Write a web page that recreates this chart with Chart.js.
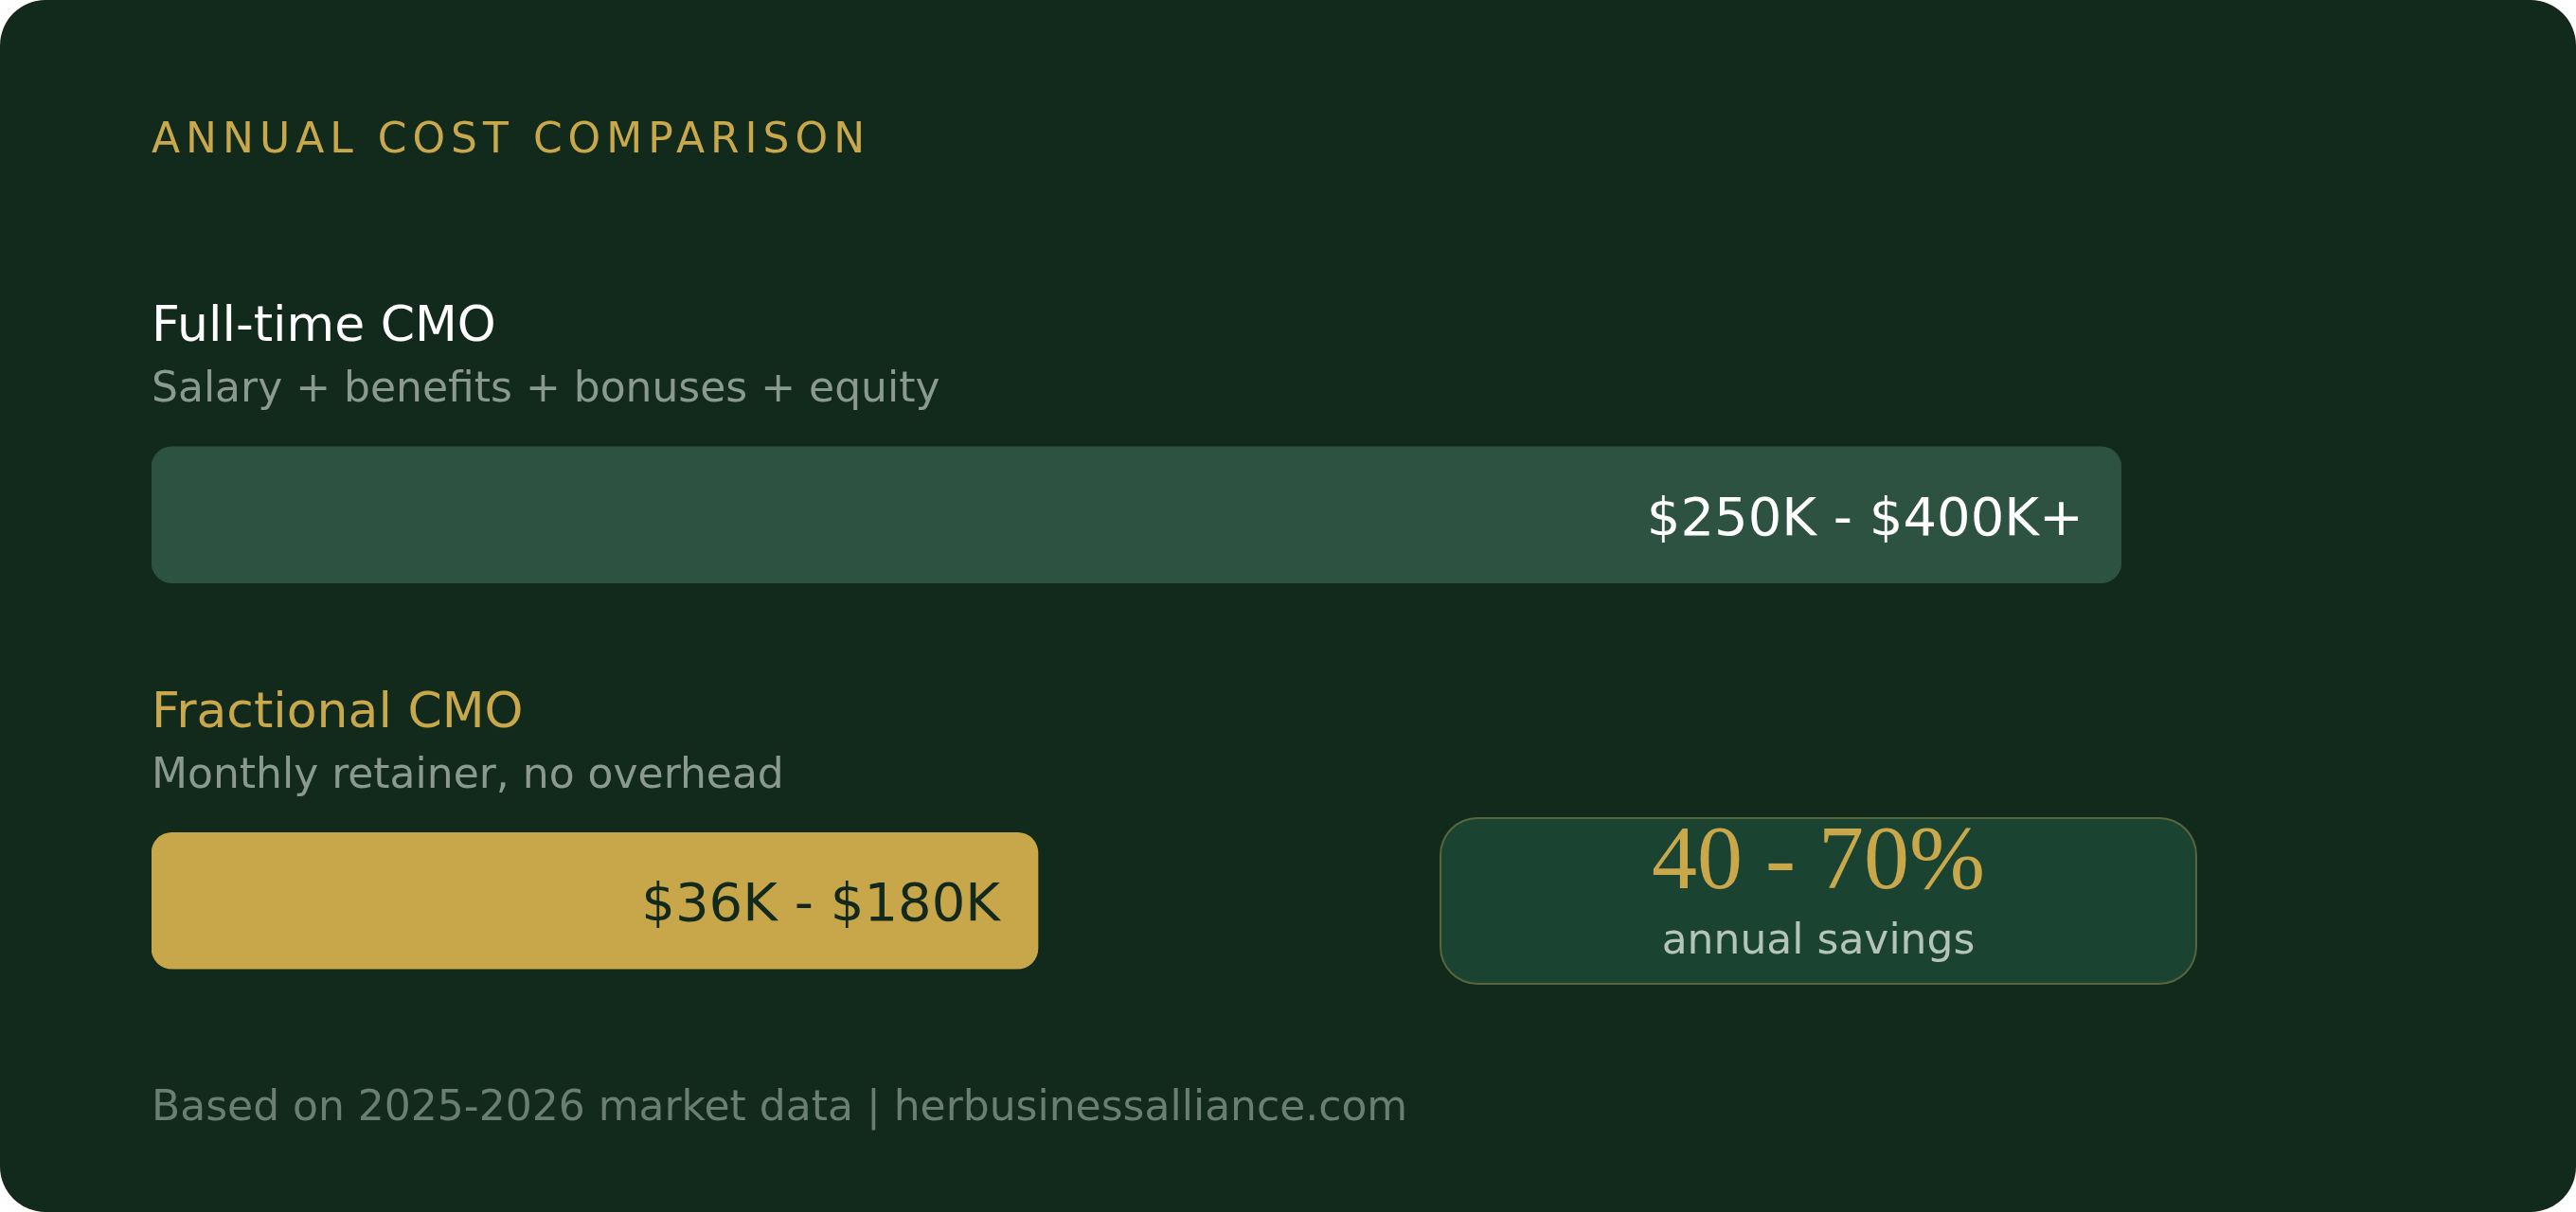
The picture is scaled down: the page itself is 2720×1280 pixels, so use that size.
<!DOCTYPE html>
<html>
<head>
<meta charset="utf-8">
<script src="https://cdn.jsdelivr.net/npm/chart.js@4.4.1/dist/chart.umd.min.js"></script>
<style>
  html, body { margin: 0; padding: 0; background: #ffffff; }
  #card {
    position: relative;
    width: 2720px;
    height: 1280px;
    background: #122a1b;
    border-radius: 48px;
    overflow: hidden;
    font-family: "DejaVu Sans", sans-serif;
  }
  #myChart { position: absolute; left: 0; top: 0; }
  .txt { position: absolute; left: 160px; margin: 0; line-height: 1; white-space: nowrap; }
  .title { top: 124px; font-size: 44px; letter-spacing: 6px; color: #c9a84c; }
  .head { font-size: 52px; }
  .sub { font-size: 44px; color: #8a9a8c; }
  .footer { top: 1146px; font-size: 44px; color: #6b7f70; }
  #savings {
    position: absolute;
    left: 1520px; top: 863px;
    width: 800px; height: 177px;
    box-sizing: border-box;
    background: #1b4332;
    border: 2px solid rgba(201, 168, 76, 0.35);
    border-radius: 40px;
  }
  #savings .big {
    position: absolute; left: 0; right: 0; top: -7px;
    text-align: center; line-height: 1;
    font-family: "Liberation Serif", serif; font-size: 96px; color: #c9a84c;
  }
  #savings .small {
    position: absolute; left: 0; right: 0; top: 105px;
    text-align: center; line-height: 1;
    font-size: 44px; color: #b5c4b9;
  }
</style>
</head>
<body>
<div id="card">
  <canvas id="myChart" width="2720" height="1280"></canvas>
  <p class="txt title">ANNUAL COST COMPARISON</p>
  <p class="txt head" id="head0" style="top:316px;color:#ffffff;"></p>
  <p class="txt sub" id="sub0" style="top:387px;"></p>
  <p class="txt head" id="head1" style="top:724px;color:#c9a84c;"></p>
  <p class="txt sub" id="sub1" style="top:795px;"></p>
  <div id="savings">
    <div class="big" id="savingsValue"></div>
    <div class="small" id="savingsLabel"></div>
  </div>
  <p class="txt footer" id="footer"></p>
</div>

<script>
// data
const categories = ['Full-time CMO', 'Fractional CMO']
const subtitles = ['Salary + benefits + bonuses + equity', 'Monthly retainer, no overhead']
const costTop = [400, 180]   // upper end of the annual cost, $K
const costLabels = ['$250K - $400K+', '$36K - $180K']
const savingsValue = '40 - 70%'
const savingsLabel = 'annual savings'
const footerText = 'Based on 2025-2026 market data | herbusinessalliance.com'

document.addEventListener('DOMContentLoaded', function () {
  drawCostChart()
})

function drawCostChart() {
  for (let i = 0; i < categories.length; i++) {
    document.getElementById('head' + i).textContent = categories[i]
    document.getElementById('sub' + i).textContent = subtitles[i]
  }
  document.getElementById('savingsValue').textContent = savingsValue
  document.getElementById('savingsLabel').textContent = savingsLabel
  document.getElementById('footer').textContent = footerText

  // value text inside the right end of each bar
  const barLabels = {
    id: 'barLabels',
    afterDatasetsDraw(chart) {
      const ctx = chart.ctx
      const meta = chart.getDatasetMeta(0)
      const textColors = ['#ffffff', '#12291b']
      ctx.save()
      ctx.font = '56px "DejaVu Sans", sans-serif'
      ctx.textAlign = 'right'
      ctx.textBaseline = 'alphabetic'
      meta.data.forEach((bar, i) => {
        ctx.fillStyle = textColors[i]
        ctx.fillText(costLabels[i], bar.x - 40, bar.y + 21)
      })
      ctx.restore()
    }
  }

  const ctx = document.getElementById('myChart')
  const config = {
    type: 'bar',
    data: {
      labels: categories,
      datasets: [{
        data: costTop,
        backgroundColor: ['#2d5242', '#c8a74b'],
        borderWidth: 0,
        borderRadius: 22,
        borderSkipped: false,
        barThickness: 144
      }]
    },
    options: {
      indexAxis: 'y',
      responsive: false,
      devicePixelRatio: 1,
      animation: false,
      layout: {
        padding: { left: 160, right: 480, top: 340, bottom: 125 }
      },
      scales: {
        x: { display: false, min: 0, max: 400 },
        y: { display: false }
      },
      plugins: {
        legend: { display: false },
        tooltip: { enabled: false }
      }
    },
    plugins: [barLabels]
  }
  new Chart(ctx, config)
}
</script>
</body>
</html>
